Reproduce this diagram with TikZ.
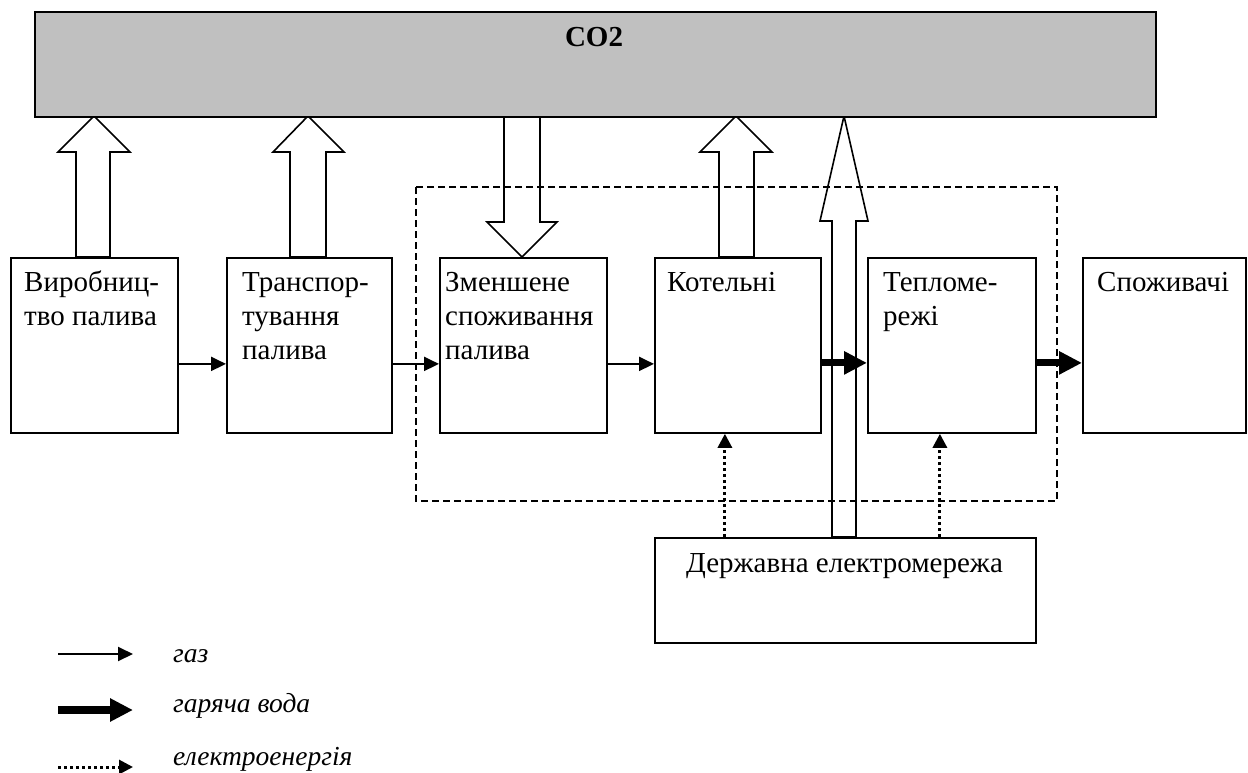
\documentclass[tikz,border=0pt]{standalone}
\usepackage{fontspec}
\setmainfont{Liberation Serif}
\usetikzlibrary{arrows.meta}

\begin{document}
\begin{tikzpicture}[x=1pt,y=-1pt,
  box/.style={draw, line width=1.8pt, fill=white, inner sep=0pt, anchor=north west},
  lbl/.style={anchor=base west, inner sep=0pt, font=\fontsize{29}{34}\selectfont},
  gas/.style={line width=2pt, -{Triangle[length=15pt,width=14pt]}},
  hot/.style={line width=7pt, -{Triangle[length=23pt,width=22pt]}},
  elec/.style={line width=3pt, dash pattern=on 3pt off 3pt, -{Triangle[length=14pt,width=14pt]}},
  blk/.style={draw, line width=1.6pt, fill=white, line join=miter},
  legend/.style={anchor=base west, inner sep=0pt, font=\fontsize{27.5}{32}\selectfont\itshape},
]
\useasboundingbox (0,0) rectangle (1248,773);

% block arrows between the CO2 bar and the stages
\draw[blk] (76,257) -- (76,152) -- (58,152) -- (94,116) -- (130,152) -- (110,152) -- (110,257) -- cycle;
\draw[blk] (290,257) -- (290,152) -- (273,152) -- (308,116) -- (344,152) -- (326,152) -- (326,257) -- cycle;
\draw[blk] (504,116) -- (504,222) -- (487,222) -- (522,257) -- (557,222) -- (540,222) -- (540,116) -- cycle;
\draw[blk] (719,257) -- (719,152) -- (700,152) -- (736,116) -- (772,152) -- (754,152) -- (754,257) -- cycle;
\draw[blk] (832,537) -- (832,221) -- (820,221) -- (844,116) -- (868,221) -- (856,221) -- (856,537) -- cycle;

% emission bar
\node[box, fill={rgb,255:red,192;green,192;blue,192}, line width=2pt,
      minimum width=1121pt, minimum height=105pt] (co2) at (34,11) {};
\node[anchor=base, inner sep=0pt, font=\fontsize{29}{34}\selectfont\bfseries] (co2t) at (594,47) {CO2};

% chain of stages
\node[box, minimum width=167pt, minimum height=175pt] (b1) at (10,257) {};
\node[box, minimum width=165pt, minimum height=175pt] (b2) at (226,257) {};
\node[box, minimum width=167pt, minimum height=175pt] (b3) at (439,257) {};
\node[box, minimum width=166pt, minimum height=175pt] (b4) at (654,257) {};
\node[box, minimum width=168pt, minimum height=175pt] (b5) at (867,257) {};
\node[box, minimum width=163pt, minimum height=175pt] (b6) at (1082,257) {};
\node[box, minimum width=381pt, minimum height=105pt] (gov) at (654,537) {};

\node[lbl] (t1) at (24,291) {\parbox[t]{200pt}{\raggedright Виробниц-\\тво палива}};
\node[lbl] (t2) at (242,291) {\parbox[t]{200pt}{\raggedright Транспор-\\тування\\палива}};
\node[lbl] (t3) at (445,291) {\parbox[t]{200pt}{\raggedright Зменшене\\споживання\\палива}};
\node[lbl] (t4) at (667,291) {Котельні};
\node[lbl] (t5) at (883,291) {\parbox[t]{200pt}{\raggedright Тепломе-\\режі}};
\node[lbl] (t6) at (1097,291) {Споживачі};
\node[anchor=base, inner sep=0pt, font=\fontsize{29}{34}\selectfont] (govt) at (844.5,572) {Державна електромережа};

% flows between stages
\draw[gas] ([yshift=-18.5pt]b1.east) -- ([yshift=-18.5pt]b2.west);
\draw[gas] ([yshift=-18.5pt]b2.east) -- ([yshift=-18.5pt]b3.west);
\draw[gas] ([yshift=-18.5pt]b3.east) -- ([yshift=-18.5pt]b4.west);
\draw[hot] ([yshift=-17.5pt]b4.east) -- ([yshift=-17.5pt]b5.west);
\draw[hot] ([yshift=-17.5pt]b5.east) -- ([yshift=-17.5pt]b6.west);

% electricity supply
\coordinate (e1) at ([xshift=-13pt]b4.south);
\coordinate (e2) at ([xshift=-12pt]b5.south);
\draw[elec] (gov.north -| e1) -- (e1);
\draw[elec] (gov.north -| e2) -- (e2);

% boundary of the modernised system
\draw[line width=2pt, dash pattern=on 7pt off 4pt] (416,187) rectangle (1057,501);

% legend
\coordinate (g1) at (58,654); \coordinate (g2) at (133,654);
\coordinate (h1) at (58,710); \coordinate (h2) at (133,710);
\coordinate (d1) at (58,767); \coordinate (d2) at (133,767);
\draw[gas] (g1) -- (g2);
\draw[hot, line width=8pt] (h1) -- (h2);
\draw[elec] (d1) -- (d2);
\node[legend] (lg) at (173,662) {газ};
\node[legend] (lh) at (173,712) {гаряча вода};
\node[legend] (le) at (173,765) {електроенергія};
\end{tikzpicture}
\end{document}
